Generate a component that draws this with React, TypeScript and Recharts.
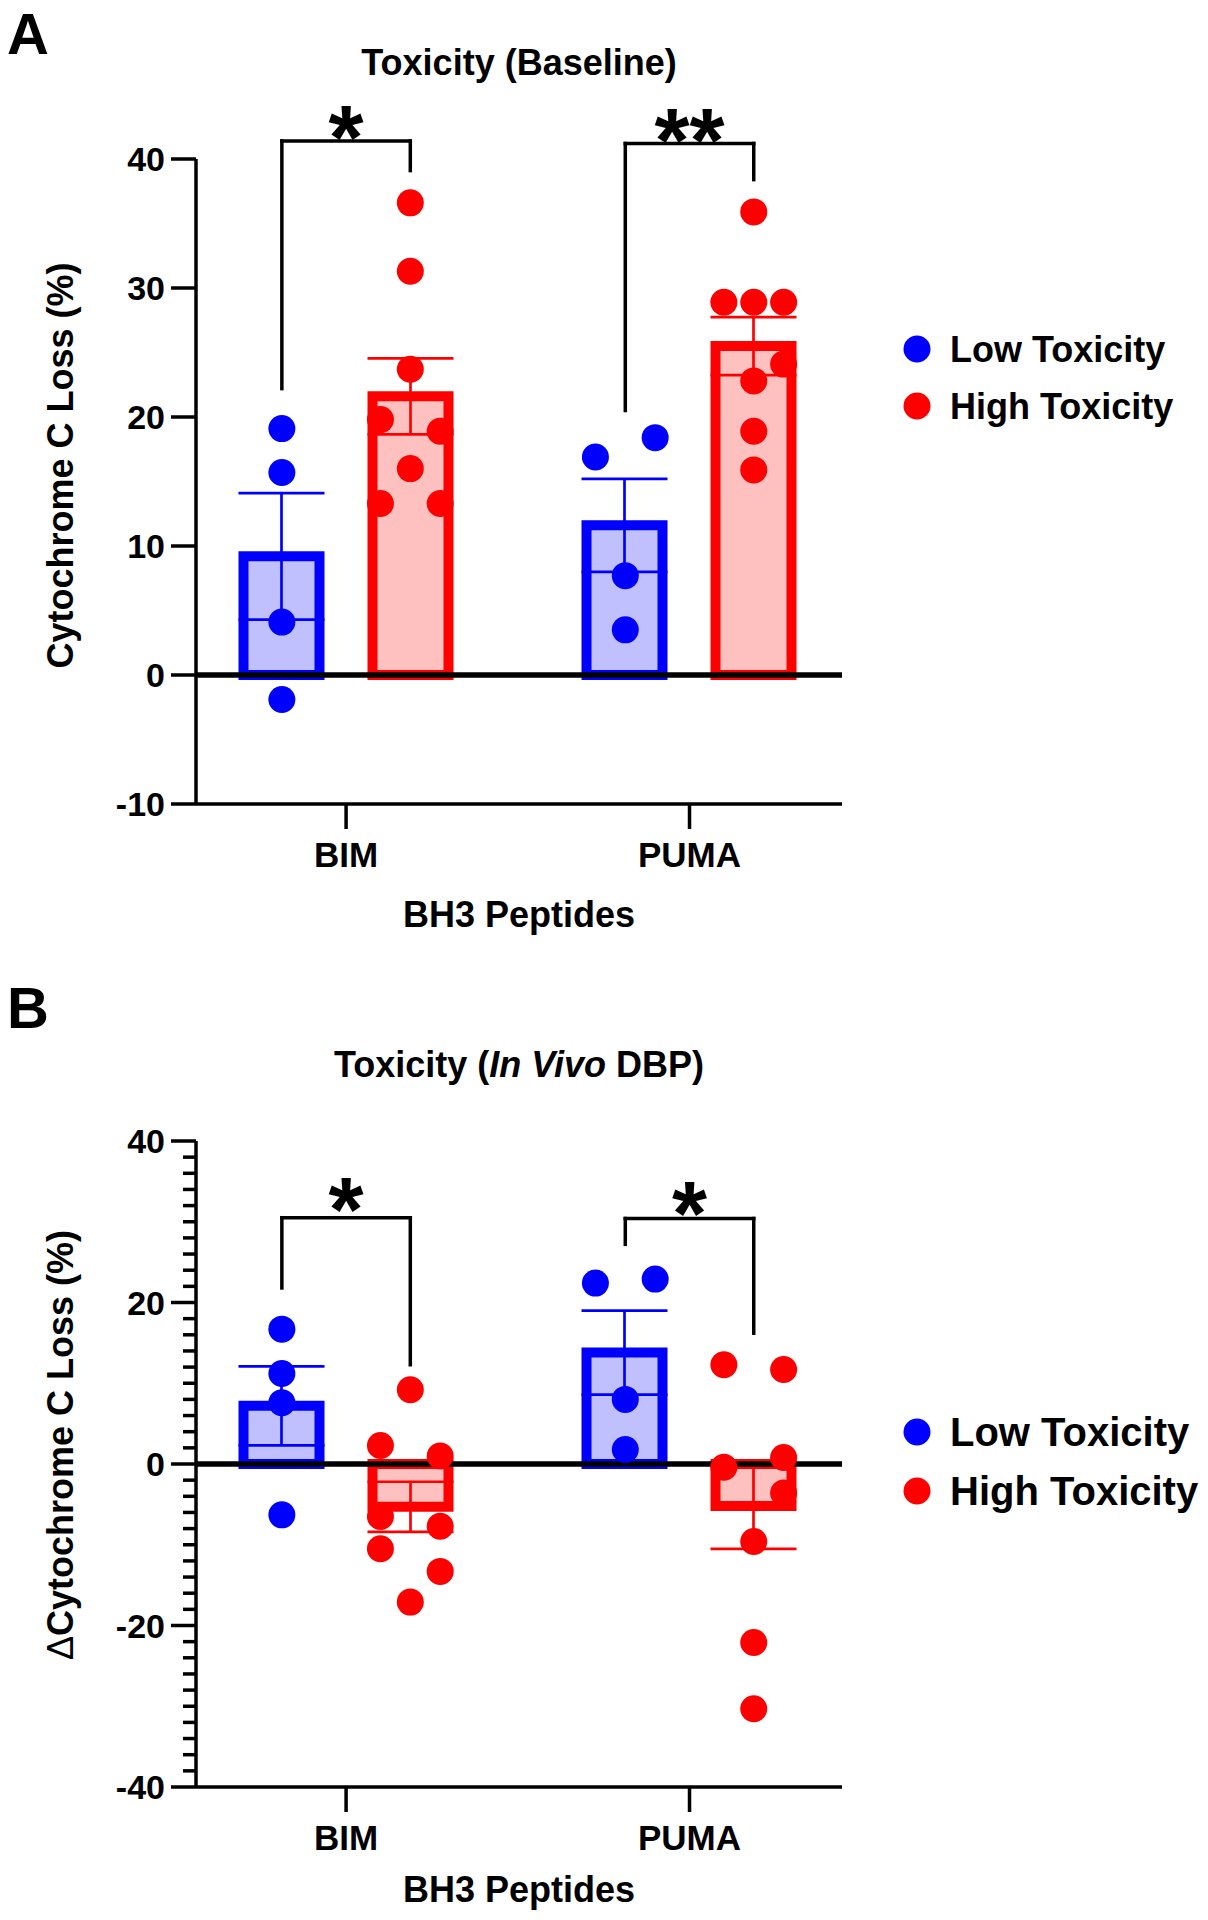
import React from "react";
import { ComposedChart, Bar, Scatter, XAxis, YAxis, ErrorBar, ReferenceLine, ReferenceDot } from "recharts";

const FONT = "'Liberation Sans', Arial, Helvetica, sans-serif";
const BLUE = "#0000ff";
const RED = "#ff0000";
const BLUE_FILL = "#c0c0ff";
const RED_FILL = "#ffc0c0";

const CATEGORIES = ["BIM", "PUMA"];
const SERIES = ["Low Toxicity", "High Toxicity"];

// ---- Panel A: Toxicity (Baseline) ----
const A_BIM_LOW = [19.1, 15.7, 4.1, -1.9];
const A_BIM_HIGH = [36.6, 31.3, 23.7, 19.8, 18.9, 16.0, 13.3, 13.3];
const A_PUMA_LOW = [18.4, 16.9, 7.7, 3.5];
const A_PUMA_HIGH = [35.9, 28.9, 28.9, 28.9, 24.1, 22.8, 18.9, 15.9];
// horizontal slot of each point (-1 left, 0 centre, 1 right)
const A_BIM_LOW_SLOT = [0, 0, 0, 0];
const A_BIM_HIGH_SLOT = [0, 0, 0, -1, 1, 0, -1, 1];
const A_PUMA_LOW_SLOT = [1, -1, 0, 0];
const A_PUMA_HIGH_SLOT = [0, -1, 0, 1, 1, 0, 0, 0];
const A_MEAN_LOW = [9.2, 11.6];
const A_MEAN_HIGH = [21.6, 25.5];
const A_SEM_LOW = [4.9, 3.6];
const A_SEM_HIGH = [2.95, 2.25];
// bracket: left leg bottom, top, right leg bottom; star height
const A_BRACKET_LEFT = [22.2, 20.5];
const A_BRACKET_TOP = [41.4, 41.2];
const A_BRACKET_RIGHT = [39.1, 38.4];
const A_STAR_Y = [42.7, 42.5];
const A_STARS = ["*", "**"];
const A_TICKS = [-10, 0, 10, 20, 30, 40];

// ---- Panel B: Toxicity (In Vivo DBP) ----
const B_BIM_LOW = [16.7, 11.2, 7.6, -6.3];
const B_BIM_HIGH = [9.2, 2.3, 1.0, -6.5, -7.7, -10.5, -13.3, -17.1];
const B_PUMA_LOW = [22.4, 22.9, 8.0, 1.8];
const B_PUMA_HIGH = [12.3, 11.7, -0.4, 0.8, -3.6, -9.6, -22.1, -30.3];
const B_BIM_LOW_SLOT = [0, 0, 0, 0];
const B_BIM_HIGH_SLOT = [0, -1, 1, -1, 1, -1, 1, 0];
const B_PUMA_LOW_SLOT = [-1, 1, 0, 0];
const B_PUMA_HIGH_SLOT = [-1, 1, -1, 1, 1, 0, 0, 0];
const B_MEAN_LOW = [7.2, 13.8];
const B_MEAN_HIGH = [-5.3, -5.2];
const B_SEM_LOW = [4.9, 5.2];
const B_SEM_HIGH = [3.1, 5.3];
const B_BRACKET_LEFT = [21.8, 27.2];
const B_BRACKET_TOP = [30.5, 30.4];
const B_BRACKET_RIGHT = [12.3, 16.2];
const B_STAR_Y = [33.2, 32.7];
const B_STARS = ["*", "*"];
const B_MAJOR_TICKS = [-40, -20, 0, 20, 40];
const B_TICKS = Array.from({ length: 41 }, (_, i) => -40 + i * 2);

const SIDE = 0.187;
const JITTER = 0.087;
const X_DOMAIN: [number, number] = [-0.437, 1.444];
const XH = 130;

function makePoints(groups: number[][], slots: number[][], side: number) {
  const pts: { x: number; y: number }[] = [];
  groups.forEach((vals, i) =>
    vals.forEach((v, j) => pts.push({ x: i + side * SIDE + slots[i][j] * JITTER, y: v }))
  );
  return pts;
}

const dot = (color: string) => (p: any) => <circle cx={p.cx} cy={p.cy} r={13.5} fill={color} />;

function Panel(cfg: any) {
  const rows = CATEGORIES.map((name, i) => ({
    name,
    low: cfg.meanLow[i],
    high: cfg.meanHigh[i],
    lowErr: cfg.semLow[i],
    highErr: cfg.semHigh[i],
  }));
  const lowPts = makePoints(cfg.low, cfg.lowSlot, -1);
  const highPts = makePoints(cfg.high, cfg.highSlot, 1);

  const yTick = (p: any) => {
    const v = p.payload.value;
    const major = cfg.major.includes(v);
    return (
      <g>
        <line x1={p.x - (major ? 25 : 13)} x2={p.x} y1={p.y} y2={p.y} stroke="#000" strokeWidth={3.5} />
        {major && (
          <text x={p.x - 31} y={p.y} dy="0.36em" textAnchor="end" fontSize={34} fontWeight={700} fontFamily={FONT} fill="#000">
            {v}
          </text>
        )}
      </g>
    );
  };

  return (
    <ComposedChart
      width={1208}
      height={960}
      data={rows}
      margin={{ top: cfg.plotTop, right: 366, bottom: 960 - cfg.plotBottom - XH, left: 20 }}
      barGap={53}
    >
      <XAxis
        xAxisId="cat"
        dataKey="name"
        type="category"
        orientation="top"
        height={0}
        hide
        padding={{ left: -21.5, right: -18.5 }}
      />
      <XAxis
        xAxisId="num"
        dataKey="x"
        type="number"
        domain={X_DOMAIN}
        ticks={[0, 1]}
        interval={0}
        tickFormatter={(v) => CATEGORIES[v]}
        height={XH}
        axisLine={{ stroke: "#000", strokeWidth: 3.5 }}
        tickLine={{ stroke: "#000", strokeWidth: 3.5 }}
        tickSize={25}
        tickMargin={13}
        tick={{ fill: "#000", fontSize: 35, fontWeight: 700, fontFamily: FONT }}
        label={{
          content: (p: any) => (
            <text
              x={p.viewBox.x + p.viewBox.width / 2}
              y={p.viewBox.y + cfg.xLabelGap}
              textAnchor="middle"
              fontSize={36}
              fontWeight={700}
              fontFamily={FONT}
              fill="#000"
            >
              BH3 Peptides
            </text>
          ),
        }}
      />
      <YAxis
        domain={cfg.yDomain}
        ticks={cfg.yTicks}
        interval={0}
        width={176}
        tickSize={0}
        tickMargin={0}
        tickLine={false}
        axisLine={{ stroke: "#000", strokeWidth: 3.5 }}
        tick={yTick}
        label={{
          content: (p: any) => {
            const cx = p.viewBox.x + 40;
            const cy = p.viewBox.y + p.viewBox.height / 2 + cfg.yLabelShift;
            return (
              <text
                x={cx}
                y={cy}
                dy="0.36em"
                transform={`rotate(-90 ${cx} ${cy})`}
                textAnchor="middle"
                fontSize={36}
                fontWeight={700}
                fontFamily={FONT}
                fill="#000"
              >
                {cfg.yLabel}
              </text>
            );
          },
        }}
      />
      <Bar xAxisId="cat" dataKey="low" fill={BLUE_FILL} stroke={BLUE} strokeWidth={10} barSize={76} isAnimationActive={false}>
        <ErrorBar dataKey="lowErr" width={43} stroke={BLUE} strokeWidth={2.7} direction="y" />
      </Bar>
      <Bar xAxisId="cat" dataKey="high" fill={RED_FILL} stroke={RED} strokeWidth={10} barSize={76} isAnimationActive={false}>
        <ErrorBar dataKey="highErr" width={43} stroke={RED} strokeWidth={2.7} direction="y" />
      </Bar>
      <ReferenceLine xAxisId="num" y={0} stroke="#000" strokeWidth={5.5} />
      <Scatter xAxisId="num" name={SERIES[0]} data={lowPts} dataKey="y" fill={BLUE} shape={dot(BLUE)} isAnimationActive={false} />
      <Scatter xAxisId="num" name={SERIES[1]} data={highPts} dataKey="y" fill={RED} shape={dot(RED)} isAnimationActive={false} />
      {CATEGORIES.map((c, i) => {
        const xl = i - SIDE;
        const xr = i + SIDE;
        const top = cfg.bTop[i];
        const seg = (a: any, b: any, k: string) => (
          <ReferenceLine
            key={c + k}
            xAxisId="num"
            segment={[a, b]}
            stroke="#000"
            strokeWidth={3.5}
            strokeLinecap="square"
            ifOverflow="visible"
          />
        );
        return [
          seg({ x: xl, y: cfg.bLeft[i] }, { x: xl, y: top }, "l"),
          seg({ x: xl, y: top }, { x: xr, y: top }, "t"),
          seg({ x: xr, y: top }, { x: xr, y: cfg.bRight[i] }, "r"),
          <ReferenceDot
            key={c + "s"}
            xAxisId="num"
            x={i}
            y={cfg.starY[i]}
            r={0}
            fill="none"
            stroke="none"
            ifOverflow="visible"
            label={{
              content: (p: any) => (
                <text
                  x={p.viewBox.x + (p.viewBox.width || 0) / 2}
                  y={p.viewBox.y + (p.viewBox.height || 0) / 2}
                  dy="0.5em"
                  textAnchor="middle"
                  fontSize={90}
                  fontWeight={700}
                  fontFamily={FONT}
                  fill="#000"
                >
                  {cfg.stars[i]}
                </text>
              ),
            }}
          />,
        ];
      })}
    </ComposedChart>
  );
}

const PANEL_A = {
  plotTop: 159,
  plotBottom: 804,
  yDomain: [-10, 40],
  yTicks: A_TICKS,
  major: A_TICKS,
  low: [A_BIM_LOW, A_PUMA_LOW],
  high: [A_BIM_HIGH, A_PUMA_HIGH],
  lowSlot: [A_BIM_LOW_SLOT, A_PUMA_LOW_SLOT],
  highSlot: [A_BIM_HIGH_SLOT, A_PUMA_HIGH_SLOT],
  meanLow: A_MEAN_LOW,
  meanHigh: A_MEAN_HIGH,
  semLow: A_SEM_LOW,
  semHigh: A_SEM_HIGH,
  bLeft: A_BRACKET_LEFT,
  bTop: A_BRACKET_TOP,
  bRight: A_BRACKET_RIGHT,
  starY: A_STAR_Y,
  stars: A_STARS,
  xLabelGap: 123,
  yLabelShift: -16,
  yLabel: "Cytochrome C Loss (%)",
};

const PANEL_B = {
  plotTop: 181,
  plotBottom: 827,
  yDomain: [-40, 40],
  yTicks: B_TICKS,
  major: B_MAJOR_TICKS,
  low: [B_BIM_LOW, B_PUMA_LOW],
  high: [B_BIM_HIGH, B_PUMA_HIGH],
  lowSlot: [B_BIM_LOW_SLOT, B_PUMA_LOW_SLOT],
  highSlot: [B_BIM_HIGH_SLOT, B_PUMA_HIGH_SLOT],
  meanLow: B_MEAN_LOW,
  meanHigh: B_MEAN_HIGH,
  semLow: B_SEM_LOW,
  semHigh: B_SEM_HIGH,
  bLeft: B_BRACKET_LEFT,
  bTop: B_BRACKET_TOP,
  bRight: B_BRACKET_RIGHT,
  starY: B_STAR_Y,
  stars: B_STARS,
  xLabelGap: 115,
  yLabelShift: -19,
  yLabel: (
    <>
      <tspan fontWeight={400}>Δ</tspan>Cytochrome C Loss (%)
    </>
  ),
};

function LegendBlock({ y, gap, size }: { y: number; gap: number; size: number }) {
  return (
    <g>
      {SERIES.map((s, i) => (
        <g key={s}>
          <circle cx={917} cy={y + i * gap} r={13.5} fill={i === 0 ? BLUE : RED} />
          <text x={950} y={y + i * gap} dy="0.36em" fontSize={size} fontWeight={700} fontFamily={FONT} fill="#000">
            {s}
          </text>
        </g>
      ))}
    </g>
  );
}

export default function App() {
  return (
    <div style={{ position: "absolute", left: 0, top: 0, width: 1208, height: 1920, background: "#fff" }}>
      <div style={{ position: "absolute", left: 0, top: 0 }}>
        <Panel {...PANEL_A} />
      </div>
      <div style={{ position: "absolute", left: 0, top: 960 }}>
        <Panel {...PANEL_B} />
      </div>
      <svg width={1208} height={1920} style={{ position: "absolute", left: 0, top: 0, pointerEvents: "none" }}>
        <text x={7} y={54} fontSize={58} fontWeight={700} fontFamily={FONT} fill="#000">A</text>
        <text x={519} y={75} textAnchor="middle" fontSize={36} fontWeight={700} fontFamily={FONT} fill="#000">
          Toxicity (Baseline)
        </text>
        <text x={7} y={1028} fontSize={58} fontWeight={700} fontFamily={FONT} fill="#000">B</text>
        <text x={519} y={1077} textAnchor="middle" fontSize={36} fontWeight={700} fontFamily={FONT} fill="#000">
          Toxicity (<tspan fontStyle="italic">In Vivo</tspan> DBP)
        </text>
        <LegendBlock y={349} gap={57} size={36} />
        <LegendBlock y={1432} gap={59} size={40} />
      </svg>
    </div>
  );
}
